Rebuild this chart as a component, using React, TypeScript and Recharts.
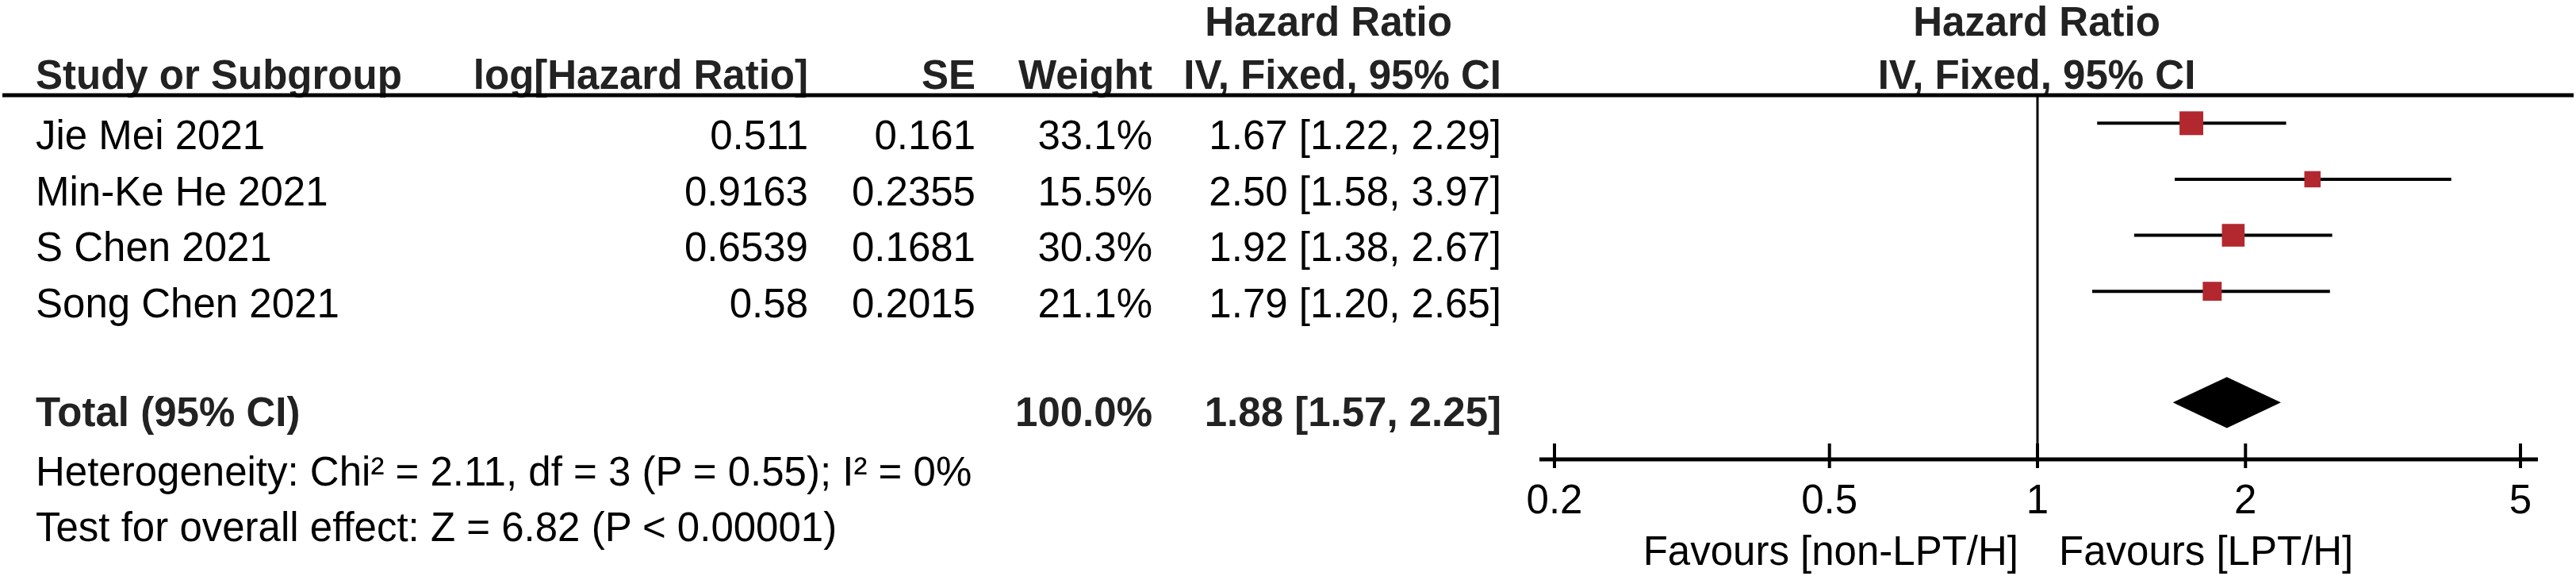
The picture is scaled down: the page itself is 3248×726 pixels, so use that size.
import React from "react";
import {
  ScatterChart,
  Scatter,
  XAxis,
  YAxis,
  ErrorBar,
  ReferenceLine,
  ReferenceArea,
} from "recharts";

// ---- data ----
const studies = ["Jie Mei 2021", "Min-Ke He 2021", "S Chen 2021", "Song Chen 2021"];
const logHR = [0.511, 0.9163, 0.6539, 0.58];
const seValues = [0.161, 0.2355, 0.1681, 0.2015];
const weights = [33.1, 15.5, 30.3, 21.1];
const hrValues = [1.67, 2.5, 1.92, 1.79];
const ciLow = [1.22, 1.58, 1.38, 1.2];
const ciHigh = [2.29, 3.97, 2.67, 2.65];

const totalWeight = 100.0;
const totalHR = 1.88;
const totalLow = 1.57;
const totalHigh = 2.25;

const xTicks = [0.2, 0.5, 1, 2, 5];
const heterogeneityText = "Heterogeneity: Chi\u00B2 = 2.11, df = 3 (P = 0.55); I\u00B2 = 0%";
const overallText = "Test for overall effect: Z = 6.82 (P < 0.00001)";
const favoursLeft = "Favours [non-LPT/H]";
const favoursRight = "Favours [LPT/H]";

// ---- layout ----
const W = 3248;
const H = 726;
const FONT = "'Liberation Sans', Arial, sans-serif";
const FS = 51;
const ROW0 = 188; // baseline of first study row
const ROWH = 70.7;
const totalRow = 5;

const studyData = studies.map((s, i) => ({
  name: s,
  x: hrValues[i],
  y: i,
  w: weights[i],
  err: [hrValues[i] - ciLow[i], ciHigh[i] - hrValues[i]],
}));

const SquareShape = (props: any) => {
  const { cx, cy, payload } = props;
  if (cx == null || cy == null) return null;
  const side = 5.2 * Math.sqrt(payload.w);
  return (
    <rect x={cx - side / 2} y={cy - side / 2} width={side} height={side} fill="#B3282E" />
  );
};

const DiamondShape = (props: any) => {
  const { x, y, width, height } = props;
  const pts = [
    [x, y + height / 2],
    [x + width / 2, y],
    [x + width, y + height / 2],
    [x + width / 2, y + height],
  ]
    .map((p) => p.join(","))
    .join(" ");
  return <polygon points={pts} fill="#000" />;
};

const Tick = (props: any) => {
  const { x, y, payload } = props;
  return (
    <g>
      <line x1={x} x2={x} y1={y - 20} y2={y + 11} stroke="#000" strokeWidth={4} />
      <text x={x} y={y + 68} textAnchor="middle" fontFamily={FONT} fontSize={FS} fill="#000">
        {String(payload.value)}
      </text>
    </g>
  );
};

export default function App() {
  const rowY = (i: number) => ROW0 + i * ROWH;
  const txt = (
    x: number,
    y: number,
    s: string,
    anchor: "start" | "middle" | "end",
    bold = false,
    key?: string
  ) => (
    <text
      key={key}
      x={x}
      y={y}
      textAnchor={anchor}
      fontFamily={FONT}
      fontSize={FS}
      fontWeight={bold ? 700 : 400}
      fill={bold ? "#222" : "#000"}
    >
      {s}
    </text>
  );
  const fmtCI = (v: number, l: number, h: number) =>
    `${v.toFixed(2)} [${l.toFixed(2)}, ${h.toFixed(2)}]`;

  return (
    <div style={{ position: "absolute", left: 0, top: 0, width: W, height: H, background: "#fff" }}>
      <div style={{ position: "absolute", left: 0, top: 0 }}>
        <ScatterChart
          width={W}
          height={H}
          margin={{ top: 120, right: 48, bottom: 87, left: 1941 }}
        >
          <XAxis
            type="number"
            dataKey="x"
            scale="log"
            domain={[0.2, 5]}
            ticks={xTicks}
            allowDataOverflow
            padding={{ left: 19, right: 22 }}
            height={60}
            axisLine={{ stroke: "#000", strokeWidth: 5 }}
            tickLine={false}
            tickSize={0}
            tickMargin={0}
            tick={<Tick />}
            interval={0}
          />
          <YAxis
            type="number"
            dataKey="y"
            domain={[-0.5, 6]}
            allowDataOverflow
            reversed
            hide
            width={0}
          />
          <ReferenceLine x={1} stroke="#000" strokeWidth={3} ifOverflow="visible" />
          <ReferenceArea
            x1={totalLow}
            x2={totalHigh}
            y1={totalRow - 0.47}
            y2={totalRow + 0.44}
            ifOverflow="visible"
            shape={<DiamondShape />}
          />
          <Scatter data={studyData} shape={<SquareShape />} isAnimationActive={false}>
            <ErrorBar dataKey="err" direction="x" width={0} stroke="#000" strokeWidth={4} />
          </Scatter>
        </ScatterChart>
      </div>
      <svg
        width={W}
        height={H}
        style={{ position: "absolute", left: 0, top: 0, pointerEvents: "none" }}
      >
        {/* header */}
        {txt(1675, 45, "Hazard Ratio", "middle", true)}
        {txt(2568, 45, "Hazard Ratio", "middle", true)}
        {txt(45, 112, "Study or Subgroup", "start", true)}
        {txt(1019, 112, "log[Hazard Ratio]", "end", true)}
        {txt(1230, 112, "SE", "end", true)}
        {txt(1453, 112, "Weight", "end", true)}
        {txt(1893, 112, "IV, Fixed, 95% CI", "end", true)}
        {txt(2568, 112, "IV, Fixed, 95% CI", "middle", true)}
        <line x1={3} x2={3245} y1={120} y2={120} stroke="#000" strokeWidth={5} />
        {/* study rows */}
        {studies.map((s, i) => (
          <g key={s}>
            {txt(45, rowY(i), s, "start")}
            {txt(1019, rowY(i), String(logHR[i]), "end")}
            {txt(1230, rowY(i), String(seValues[i]), "end")}
            {txt(1453, rowY(i), `${weights[i].toFixed(1)}%`, "end")}
            {txt(1893, rowY(i), fmtCI(hrValues[i], ciLow[i], ciHigh[i]), "end")}
          </g>
        ))}
        {/* total */}
        {txt(45, 537, "Total (95% CI)", "start", true)}
        {txt(1453, 537, `${totalWeight.toFixed(1)}%`, "end", true)}
        {txt(1893, 537, fmtCI(totalHR, totalLow, totalHigh), "end", true)}
        {txt(45, 612, heterogeneityText, "start")}
        {txt(45, 682, overallText, "start")}
        {/* favours */}
        {txt(2545, 712, favoursLeft, "end")}
        {txt(2596, 712, favoursRight, "start")}
      </svg>
    </div>
  );
}
